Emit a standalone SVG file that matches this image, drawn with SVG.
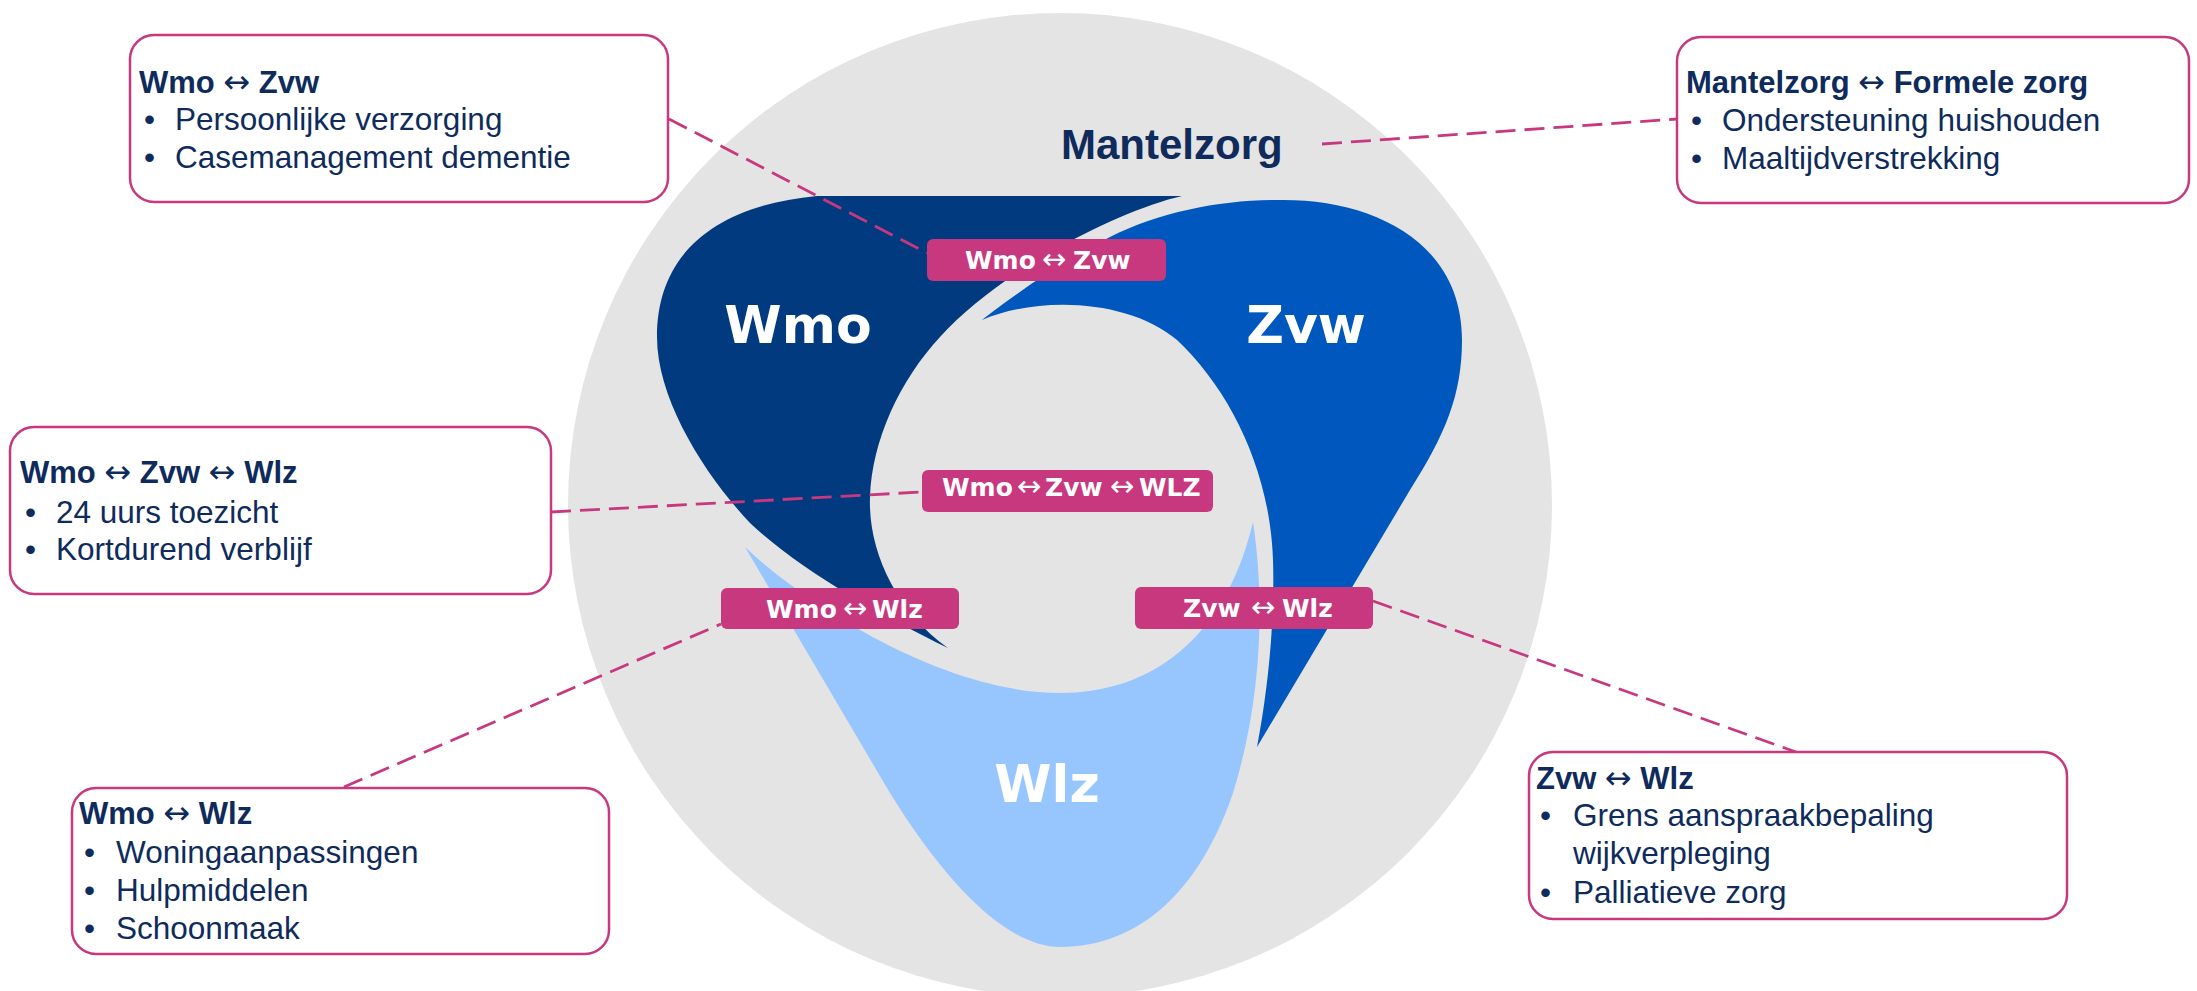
<svg xmlns="http://www.w3.org/2000/svg" width="2197" height="991" viewBox="0 0 2197 991">
<style>
.box{fill:#fff;stroke:#C8387F;stroke-width:2.5}
.lbl{fill:#C8387F}
.lt{font-family:"DejaVu Sans",Verdana,sans-serif;font-weight:bold;font-size:25px;fill:#fff}
.arr{font-family:"DejaVu Sans",sans-serif;font-weight:normal;font-size:29px}
.big{font-family:"DejaVu Sans",Verdana,sans-serif;font-weight:bold;font-size:52px;fill:#fff;text-anchor:middle}
.ttl{font-family:"Liberation Sans",Arial,sans-serif;font-weight:bold;font-size:31px;fill:#0E2B5C}
.txt{font-family:"Liberation Sans",Arial,sans-serif;font-size:31.5px;fill:#0E2B5C}
.ta{font-family:"DejaVu Sans",sans-serif;font-weight:normal;font-size:32px}
.con{stroke:#C8387F;stroke-width:2.8;stroke-dasharray:20 9;fill:none}
</style>
<rect width="2197" height="991" fill="#fff"/>
<g id="mantelzorg">
<circle cx="1060" cy="505" r="492" fill="#E4E4E4"/>
<text x="1061" y="159" font-family="Liberation Sans, Arial, sans-serif" font-weight="bold" font-size="42" fill="#0E2B5C">Mantelzorg</text>
</g>
<g id="wlz">
<path fill="#97C6FE" d="M745,547 C800,600 940,693 1060,693 C1150,693 1225,640 1253,522 C1265,600 1262,700 1233,793 C1200,890 1140,947 1060,947 C1010,947 950,890 890,793 Z"/>
<text class="big" x="1047" y="802">Wlz</text>
</g>
<g id="wmo">
<path fill="#023A80" d="M817,196 L1182,196 C1120,210 1000,270 940,337 C900,380 872,440 870,497 C868,550 895,610 948,648 C880,615 800,570 750,523 C705,475 657,400 657,337 C657,250 720,205 817,196 Z"/>
<text class="big" x="798" y="343">Wmo</text>
</g>
<g id="zvw">
<path fill="#0058BF" d="M982,320 C1010,298 1060,262 1110,237 C1160,212 1220,200 1277,200 C1370,198 1462,240 1462,340 C1462,395 1445,435 1410,490 L1257,747 C1268,690 1275,620 1273,560 C1270,470 1230,390 1177,340 C1130,300 1040,295 982,320 Z"/>
<text class="big" x="1306" y="343">Zvw</text>
</g>
<g id="connectors">
<line class="con" x1="669" y1="119" x2="927" y2="253"/>
<line class="con" x1="1322" y1="144" x2="1677" y2="119"/>
<line class="con" x1="551" y1="512" x2="922" y2="492"/>
<line class="con" x1="344" y1="787" x2="721" y2="624"/>
<line class="con" x1="1373" y1="601" x2="1796" y2="752"/>
</g>
<g id="label-wmo-zvw">
<rect class="lbl" x="927" y="239" width="239" height="42" rx="6"/>
<text class="lt" y="269"><tspan x="965">Wmo</tspan><tspan class="arr" x="1042">↔</tspan><tspan x="1073">Zvw</tspan></text>
</g>
<g id="label-wmo-zvw-wlz">
<rect class="lbl" x="922" y="470" width="291" height="42" rx="6"/>
<text class="lt" y="496"><tspan x="942">Wmo</tspan><tspan class="arr" x="1017">↔</tspan><tspan x="1045">Zvw</tspan><tspan class="arr" x="1110">↔</tspan><tspan x="1139">WLZ</tspan></text>
</g>
<g id="label-wmo-wlz">
<rect class="lbl" x="721" y="588" width="238" height="41" rx="6"/>
<text class="lt" y="618"><tspan x="766">Wmo</tspan><tspan class="arr" x="843">↔</tspan><tspan x="872">Wlz</tspan></text>
</g>
<g id="label-zvw-wlz">
<rect class="lbl" x="1135" y="587" width="238" height="42" rx="6"/>
<text class="lt" y="617"><tspan x="1183">Zvw</tspan><tspan class="arr" x="1251">↔</tspan><tspan x="1282">Wlz</tspan></text>
</g>
<g id="box-wmo-zvw">
<rect class="box" x="130" y="35" width="538" height="167" rx="24"/>
<text class="ttl" x="139" y="93">Wmo <tspan class="ta">↔</tspan> Zvw</text>
<text class="txt" x="144" y="130">•</text><text class="txt" x="175" y="130">Persoonlijke verzorging</text>
<text class="txt" x="144" y="168">•</text><text class="txt" x="175" y="168">Casemanagement dementie</text>
</g>
<g id="box-mantelzorg">
<rect class="box" x="1677" y="37" width="512" height="166" rx="24"/>
<text class="ttl" x="1686" y="93">Mantelzorg <tspan class="ta">↔</tspan> Formele zorg</text>
<text class="txt" x="1691" y="131">•</text><text class="txt" x="1722" y="131">Ondersteuning huishouden</text>
<text class="txt" x="1691" y="169">•</text><text class="txt" x="1722" y="169">Maaltijdverstrekking</text>
</g>
<g id="box-wmo-zvw-wlz">
<rect class="box" x="10" y="427" width="541" height="167" rx="24"/>
<text class="ttl" x="20" y="483">Wmo <tspan class="ta">↔</tspan> Zvw <tspan class="ta">↔</tspan> Wlz</text>
<text class="txt" x="25" y="523">•</text><text class="txt" x="56" y="523">24 uurs toezicht</text>
<text class="txt" x="25" y="560">•</text><text class="txt" x="56" y="560">Kortdurend verblijf</text>
</g>
<g id="box-wmo-wlz">
<rect class="box" x="72" y="788" width="537" height="166" rx="24"/>
<text class="ttl" x="79" y="824">Wmo <tspan class="ta">↔</tspan> Wlz</text>
<text class="txt" x="84" y="863">•</text><text class="txt" x="116" y="863">Woningaanpassingen</text>
<text class="txt" x="84" y="901">•</text><text class="txt" x="116" y="901">Hulpmiddelen</text>
<text class="txt" x="84" y="939">•</text><text class="txt" x="116" y="939">Schoonmaak</text>
</g>
<g id="box-zvw-wlz">
<rect class="box" x="1529" y="752" width="538" height="167" rx="24"/>
<text class="ttl" x="1536" y="789">Zvw <tspan class="ta">↔</tspan> Wlz</text>
<text class="txt" x="1540" y="826">•</text><text class="txt" x="1573" y="826">Grens aanspraakbepaling</text>
<text class="txt" x="1573" y="864">wijkverpleging</text>
<text class="txt" x="1540" y="903">•</text><text class="txt" x="1573" y="903">Palliatieve zorg</text>
</g>
</svg>
